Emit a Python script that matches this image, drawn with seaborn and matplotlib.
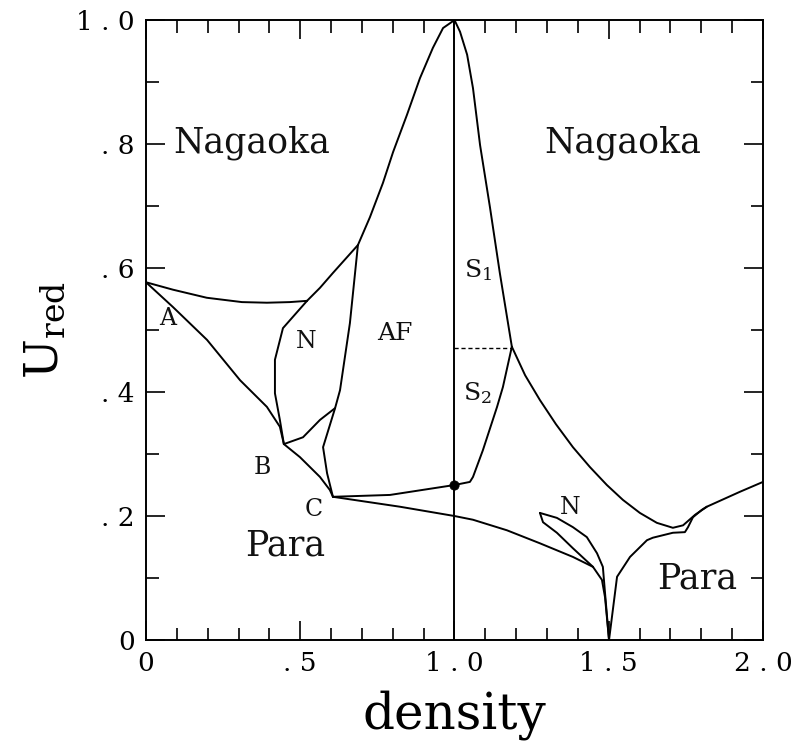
import matplotlib
matplotlib.use("Agg")
import matplotlib.pyplot as plt
import seaborn as sns
import pandas as pd
from matplotlib.ticker import MultipleLocator, FixedLocator

sns.set_theme(style="ticks")
plt.rcParams["font.family"] = ["DejaVu Serif"]
plt.rcParams["mathtext.fontset"] = "dejavuserif"

# ---- data (density, U_red) ----
top_left_x = [0.0, 0.0875, 0.197, 0.311, 0.392, 0.466, 0.522]
top_left_y = [0.577, 0.565, 0.552, 0.545, 0.544, 0.545, 0.547]

n_upper_x = [0.522, 0.564, 0.606, 0.687]
n_upper_y = [0.547, 0.568, 0.592, 0.637]

dome_x = [0.687, 0.726, 0.768, 0.801, 0.846, 0.888, 0.930, 0.963, 0.992, 1.0,
          1.018, 1.041, 1.060, 1.083, 1.115, 1.147, 1.186]
dome_y = [0.637, 0.682, 0.737, 0.787, 0.847, 0.906, 0.955, 0.987, 0.997, 1.0,
          0.981, 0.944, 0.890, 0.798, 0.698, 0.592, 0.473]

right_nag_x = [1.186, 1.229, 1.277, 1.329, 1.384, 1.439, 1.494, 1.546, 1.601,
               1.656, 1.708, 1.741, 1.780, 1.818, 1.925, 2.0]
right_nag_y = [0.473, 0.427, 0.387, 0.348, 0.311, 0.279, 0.250, 0.226, 0.205,
               0.189, 0.181, 0.185, 0.202, 0.215, 0.239, 0.255]

para_right_x = [1.501, 1.527, 1.569, 1.624, 1.643, 1.708, 1.747, 1.757, 1.773, 1.802, 1.818]
para_right_y = [0.0, 0.102, 0.134, 0.161, 0.165, 0.173, 0.174, 0.182, 0.198, 0.210, 0.215]

n2_upper_x = [1.277, 1.332, 1.384, 1.429, 1.462, 1.481, 1.488, 1.501]
n2_upper_y = [0.205, 0.197, 0.182, 0.166, 0.140, 0.118, 0.076, 0.0]

n2_lower_x = [1.277, 1.287, 1.332, 1.384, 1.449]
n2_lower_y = [0.205, 0.190, 0.173, 0.148, 0.118]

para_line_x = [0.606, 0.823, 1.0, 1.060, 1.170, 1.277, 1.384, 1.449, 1.478, 1.488, 1.501]
para_line_y = [0.231, 0.215, 0.200, 0.194, 0.177, 0.156, 0.134, 0.118, 0.097, 0.069, 0.0]

af_lower_x = [0.606, 0.791, 1.0, 1.050, 1.060, 1.092, 1.138, 1.157, 1.186]
af_lower_y = [0.231, 0.234, 0.250, 0.255, 0.263, 0.306, 0.376, 0.408, 0.473]

dashed_x = [1.0, 1.186]
dashed_y = [0.471, 0.471]

ab_x = [0.0, 0.0875, 0.198, 0.305, 0.392, 0.434, 0.447]
ab_y = [0.577, 0.537, 0.484, 0.419, 0.376, 0.344, 0.316]

bc_x = [0.447, 0.499, 0.564, 0.596, 0.606]
bc_y = [0.316, 0.295, 0.263, 0.242, 0.231]

n_left_x = [0.522, 0.444, 0.418, 0.418, 0.434, 0.447]
n_left_y = [0.547, 0.503, 0.452, 0.398, 0.355, 0.316]

b_kink_x = [0.447, 0.509, 0.564, 0.613]
b_kink_y = [0.316, 0.327, 0.355, 0.374]

af_left_x = [0.687, 0.661, 0.629, 0.613, 0.574, 0.587, 0.606]
af_left_y = [0.637, 0.511, 0.403, 0.374, 0.311, 0.269, 0.231]

vert_x = [1.0, 1.0]
vert_y = [0.0, 1.0]

dot_x = [1.0]
dot_y = [0.25]

labels = ["Nagaoka", "Nagaoka", "Para", "Para", "A", "N", "AF",
          "S$_1$", "S$_2$", "B", "C", "N"]
label_x = [0.344, 1.546, 0.45, 1.786, 0.071, 0.519, 0.807, 1.075, 1.075, 0.376, 0.545, 1.374]
label_y = [0.802, 0.802, 0.153, 0.100, 0.519, 0.481, 0.495, 0.597, 0.398, 0.279, 0.210, 0.213]
label_size = [25, 25, 25, 25, 17, 17, 18, 18, 18, 17, 17, 17]

x_ticks = [0, 0.5, 1.0, 1.5, 2.0]
x_ticklabels = ["0", ". 5", "1 . 0", "1 . 5", "2 . 0"]
y_ticks = [0, 0.2, 0.4, 0.6, 0.8, 1.0]
y_ticklabels = ["0", ". 2", ". 4", ". 6", ". 8", "1 . 0"]

# ---- figure ----
fig = plt.figure(figsize=(7.96, 7.45), dpi=100)
ax = fig.add_axes([0.1834, 0.1409, 0.7751, 0.8323])

solid = [
    (top_left_x, top_left_y), (n_upper_x, n_upper_y), (dome_x, dome_y),
    (right_nag_x, right_nag_y), (para_right_x, para_right_y),
    (n2_upper_x, n2_upper_y), (n2_lower_x, n2_lower_y),
    (para_line_x, para_line_y), (af_lower_x, af_lower_y),
    (ab_x, ab_y), (bc_x, bc_y), (n_left_x, n_left_y),
    (b_kink_x, b_kink_y), (af_left_x, af_left_y), (vert_x, vert_y),
]
for xs, ys in solid:
    df = pd.DataFrame({"x": xs, "y": ys})
    sns.lineplot(data=df, x="x", y="y", sort=False, estimator=None,
                 color="black", linewidth=1.4, ax=ax)

sns.lineplot(data=pd.DataFrame({"x": dashed_x, "y": dashed_y}), x="x", y="y",
             sort=False, estimator=None, color="black", linewidth=1.0,
             linestyle=(0, (3, 2)), ax=ax)

sns.scatterplot(data=pd.DataFrame({"x": dot_x, "y": dot_y}), x="x", y="y",
                color="black", s=45, edgecolor="black", zorder=5, ax=ax)

for t, x, y, s in zip(labels, label_x, label_y, label_size):
    ax.text(x, y, t, ha="center", va="center", fontsize=s, color="#111111")

ax.set_xlim(0, 2.0)
ax.set_ylim(0, 1.0)
ax.xaxis.set_major_locator(FixedLocator(x_ticks))
ax.set_xticklabels(x_ticklabels)
ax.yaxis.set_major_locator(FixedLocator(y_ticks))
ax.set_yticklabels(y_ticklabels)
ax.xaxis.set_minor_locator(MultipleLocator(0.1))
ax.yaxis.set_minor_locator(MultipleLocator(0.1))
ax.tick_params(which="both", direction="in", top=True, right=True,
               colors="black", labelcolor="black", width=1.2, labelsize=19)
ax.tick_params(which="major", length=14, pad=8)
ax.tick_params(which="minor", length=9)
for sp in ax.spines.values():
    sp.set_linewidth(1.4)
    sp.set_color("black")

ax.set_xlabel("density", fontsize=36, labelpad=10, color="black")
ax.set_ylabel(r"U$_{\mathrm{red}}$", fontsize=34, labelpad=6, color="black")

fig.savefig("out.png", dpi=100)
